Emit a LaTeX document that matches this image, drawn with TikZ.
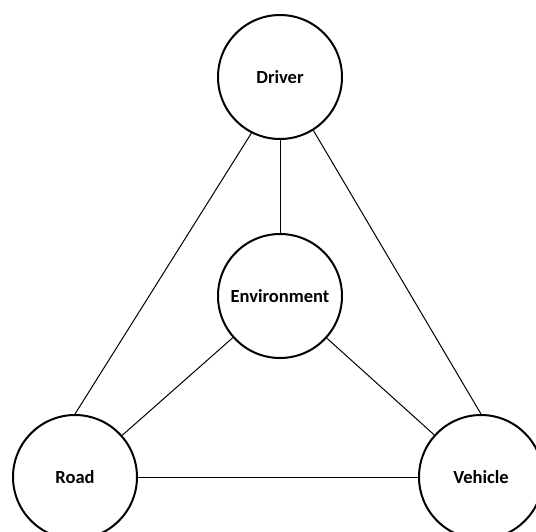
\documentclass[tikz,border=0pt]{standalone}
\usepackage{fontspec}
\setmainfont{Carlito}
\usetikzlibrary{positioning}

\begin{document}
\begin{tikzpicture}[
  x=1pt, y=-1pt,
  font=\fontsize{18.5}{22}\selectfont\bfseries,
  factor/.style={draw, circle, line width=2pt, minimum size=124pt, inner sep=0pt, fill=white},
  link/.style={line width=1pt}]
\clip (0,0) rectangle (536,531);
\useasboundingbox (0,0) rectangle (536,531);
% --- the four factors
\node[factor] (drv) at (280,77) {Driver};
\node[factor] (env) at (280,296) {Environment};
\node[factor] (road) at (75,477) {Road};
\node[factor] (veh) at (481,477) {Vehicle};
% --- links
\draw[link] (drv.243) -- (road.north);
\draw[link] (drv.302) -- (veh.north);
\draw[link] (drv) -- (env);
\draw[link] (env) -- (road);
\draw[link] (env) -- (veh);
\draw[link] (road) -- (veh);
\end{tikzpicture}
\end{document}
